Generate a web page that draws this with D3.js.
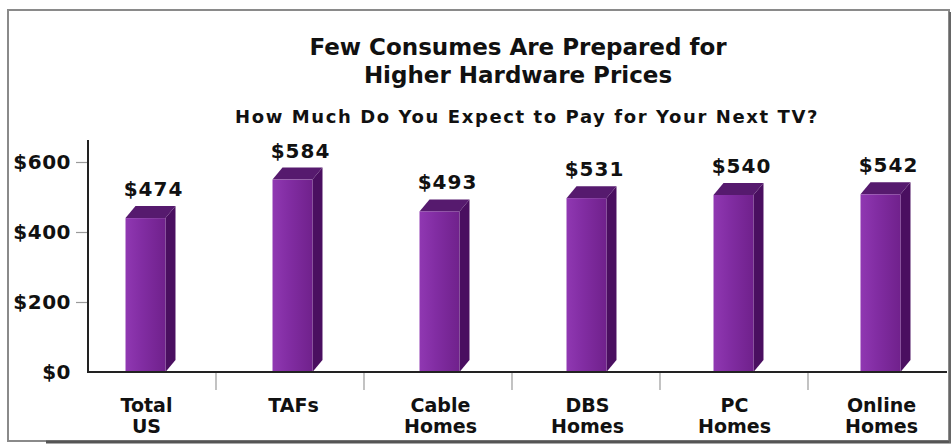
<!DOCTYPE html>
<html>
<head>
<meta charset="utf-8">
<script src="https://cdn.jsdelivr.net/npm/d3@7"></script>
<style>
  html, body { margin: 0; padding: 0; background: #ffffff; }
  svg { display: block; }
</style>
</head>
<body>
<div id="chart"></div>
<script>
// ---- data ----
const titleLines = ["Few Consumes Are Prepared for", "Higher Hardware Prices"];
const subtitle = "How Much Do You Expect to Pay for Your Next TV?";
const categories = ["Total US", "TAFs", "Cable Homes", "DBS Homes", "PC Homes", "Online Homes"];
const values = [474, 584, 493, 531, 540, 542];
const yTicks = [0, 200, 400, 600];
const yTickLabels = ["$0", "$200", "$400", "$600"];

// ---- layout ----
const W = 952, H = 446;
const baseY = 372, topY = 162;
const axisX = 88, axisRight = 947;
const dx = 10, dy = 12; // 3D depth

const svg = d3.select("#chart").append("svg").attr("width", W).attr("height", H);
const defs = svg.append("defs");
const gFront = defs.append("linearGradient").attr("id", "front").attr("x1", "0").attr("x2", "1").attr("y1", "0").attr("y2", "0");
gFront.append("stop").attr("offset", "0%").attr("stop-color", "#9038b2");
gFront.append("stop").attr("offset", "40%").attr("stop-color", "#822da3");
gFront.append("stop").attr("offset", "100%").attr("stop-color", "#70218c");

// frame
svg.append("rect").attr("x", 8).attr("y", 10).attr("width", 941).attr("height", 431)
  .attr("fill", "none").attr("stroke", "#8a8a8a").attr("stroke-width", 2);
svg.append("line").attr("x1", 46).attr("x2", 951).attr("y1", 442).attr("y2", 442)
  .attr("stroke", "#555").attr("stroke-width", 3);
svg.append("line").attr("x1", 950).attr("x2", 950).attr("y1", 12).attr("y2", 443)
  .attr("stroke", "#666").attr("stroke-width", 2);

// titles
const title = svg.append("text").attr("text-anchor", "middle")
  .attr("font-family", "DejaVu Sans, sans-serif").attr("font-weight", "bold")
  .attr("font-size", 23).attr("fill", "#111");
titleLines.forEach((t, i) => title.append("tspan").attr("x", 518).attr("y", 55 + i * 28).text(t));

svg.append("text").attr("x", 527).attr("y", 123).attr("text-anchor", "middle")
  .attr("font-family", "DejaVu Sans, sans-serif").attr("font-weight", "bold")
  .attr("font-size", 18).attr("letter-spacing", "1.6px").attr("fill", "#111")
  .text(subtitle);

// scales
const x = d3.scaleBand().domain(categories).range([72, 954]).paddingInner(0.728).paddingOuter(0.364);
const y = d3.scaleLinear().domain([0, 600]).range([baseY, topY]);

// y axis
const yAxis = d3.axisLeft(y).tickValues(yTicks).tickSize(12).tickPadding(5)
  .tickFormat((d, i) => yTickLabels[i]);
const yg = svg.append("g").attr("transform", `translate(${axisX},0)`).call(yAxis);
yg.select(".domain").remove();
yg.selectAll(".tick line").attr("stroke", "#9a9a9a").attr("stroke-width", 1.2);
yg.selectAll(".tick text").attr("font-family", "DejaVu Sans, sans-serif").attr("font-weight", "bold")
  .attr("font-size", 20).attr("fill", "#111").attr("letter-spacing", "0.5px");
yg.selectAll(".tick").filter(d => d === 0).select("line").remove();
svg.append("line").attr("x1", axisX).attr("x2", axisX).attr("y1", 140).attr("y2", baseY + 1)
  .attr("stroke", "#222").attr("stroke-width", 2);

// separators on x axis
const step = x.step();
svg.append("g").selectAll("line").data(categories.slice(0, -1)).join("line")
  .attr("x1", (d, i) => x(d) + x.bandwidth() / 2 + step / 2 - 3 + i)
  .attr("x2", (d, i) => x(d) + x.bandwidth() / 2 + step / 2 - 3 + i)
  .attr("y1", baseY).attr("y2", baseY + 18)
  .attr("stroke", "#9a9a9a").attr("stroke-width", 1.2);

// bars (3D)
const bars = svg.append("g").selectAll("g").data(values).join("g");
const bw = x.bandwidth();
bars.each(function (v, i) {
  const g = d3.select(this);
  const x0 = x(categories[i]), x1 = x0 + bw;
  const yb = y(v);          // back top
  const yf = yb + dy;       // front top
  g.append("path").attr("d", `M${x1},${yf}L${x1 + dx},${yb}L${x1 + dx},${baseY - dy}L${x1},${baseY}Z`)
    .attr("fill", "#4a0f60");
  g.append("path").attr("d", `M${x0},${yf}L${x0 + dx},${yb}L${x1 + dx},${yb}L${x1},${yf}Z`)
    .attr("fill", "#561a6e");
  g.append("rect").attr("x", x0).attr("y", yf).attr("width", bw).attr("height", baseY - yf)
    .attr("fill", "url(#front)");
});

// x axis line
svg.append("line").attr("x1", axisX).attr("x2", axisRight).attr("y1", baseY).attr("y2", baseY)
  .attr("stroke", "#222").attr("stroke-width", 2);

// value labels
svg.append("g").selectAll("text").data(values).join("text")
  .attr("x", (d, i) => x(categories[i]) + bw / 2 + 8)
  .attr("y", d => y(d) - 10)
  .attr("text-anchor", "middle")
  .attr("font-family", "DejaVu Sans, sans-serif").attr("font-weight", "bold")
  .attr("font-size", 20).attr("letter-spacing", "1px").attr("fill", "#111")
  .text(d => "$" + d);

// category labels
const cl = svg.append("g").selectAll("text").data(categories).join("text")
  .attr("text-anchor", "middle")
  .attr("font-family", "DejaVu Sans, sans-serif").attr("font-weight", "bold")
  .attr("font-size", 19).attr("fill", "#111");
cl.each(function (c) {
  const t = d3.select(this);
  c.split(" ").forEach((w, k) => t.append("tspan")
    .attr("x", x(c) + bw / 2 + 1).attr("y", 412 + k * 21).text(w));
});
</script>
</body>
</html>
